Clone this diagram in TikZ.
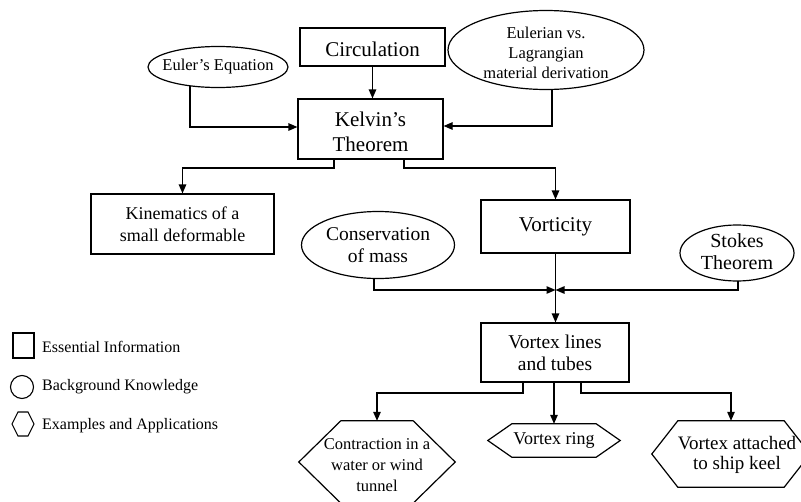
\documentclass[tikz,border=0pt]{standalone}
\usepackage{fontspec}
\setmainfont{Liberation Serif}
\usetikzlibrary{arrows.meta,shapes.geometric,calc,backgrounds}
\newcommand{\fsA}{\fontsize{21pt}{25pt}\selectfont}
\newcommand{\fsB}{\fontsize{18pt}{21.5pt}\selectfont}
\newcommand{\fsD}{\fontsize{19.5pt}{22pt}\selectfont}
\newcommand{\fsE}{\fontsize{16.5pt}{21pt}\selectfont}
\newcommand{\fsF}{\fontsize{19pt}{20pt}\selectfont}
\newcommand{\fsC}{\fontsize{16.5pt}{20pt}\selectfont}
\newcommand{\fsL}{\fontsize{16pt}{19pt}\selectfont}
\newcommand{\hexof}[2]{%
  \draw[hexline] (#1.west) -- ($(#1.north west)+(#2,0)$) -- ($(#1.north east)+(-#2,0)$)
    -- (#1.east) -- ($(#1.south east)+(-#2,0)$) -- ($(#1.south west)+(#2,0)$) -- cycle;}
\tikzset{
  box/.style={draw, line width=1.2pt, fill=white, inner sep=0pt, align=center},
  oval/.style={draw, ellipse, line width=1.2pt, fill=white, inner sep=0pt},
  hexspot/.style={draw=none, inner sep=0pt},
  hexline/.style={line width=1.2pt},
  txt/.style={inner sep=0pt, align=center},
  arr/.style={line width=1.2pt, -{Triangle[length=9pt,width=7.5pt]}},
}
\begin{document}
\begin{tikzpicture}[x=1pt,y=-1pt]
\useasboundingbox (0,0) rectangle (801,501);
\clip (0,0) rectangle (801,501);

% boxes
\node[box, minimum width=145pt, minimum height=38pt] (circ) at (372.5,47) {};
\node[txt, font=\fsA] (circt) at (372.5,49) {Circulation};
\node[box, minimum width=145pt, minimum height=60pt] (kelvin) at (370.5,129) {};
\node[txt, font=\fsA] (kelvint) at (370.5,132) {Kelvin’s\\Theorem};
\node[box, minimum width=183pt, minimum height=60pt, font=\fsB] (kin) at (182.5,224) {Kinematics of a\\small deformable};
\node[box, minimum width=149pt, minimum height=53pt, font=\fsA] (vort) at (555.5,226.5) {Vorticity};
\node[box, minimum width=148pt, minimum height=59pt, font=\fsD] (vlt) at (555,352.5) {Vortex lines\\and tubes};

% ellipses
\node[oval, minimum width=140pt, minimum height=41pt] (euler) at (218,67) {};
\node[txt, font=\fsC] (eulert) at (euler) {Euler’s Equation};
\node[oval, minimum width=196pt, minimum height=79pt] (eul) at (546,50) {};
\node[txt, font=\fsC] (eult) at (546,53) {Eulerian vs.\\Lagrangian\\material derivation};
\node[oval, minimum width=153pt, minimum height=67pt] (cons) at (378,245) {};
\node[txt, font=\fsD] (const) at (cons) {Conservation\\of mass};
\node[oval, minimum width=114pt, minimum height=56pt] (stokes) at (737,253) {};
\node[txt, font=\fontsize{20pt}{22pt}\selectfont] (stokest) at (737,252) {Stokes\\Theorem};

% hexagons
\node[hexspot, minimum width=156pt, minimum height=82pt] (hexA) at (377,462) {};
\hexof{hexA}{42}
\node[txt, font=\fsE] (hexAt) at (377,465) {Contraction in a\\water or wind\\tunnel};
\node[hexspot, minimum width=132pt, minimum height=33pt] (hexB) at (554,440.5) {};
\hexof{hexB}{24}
\node[txt, font=\fsB] (hexBt) at (hexB) {Vortex ring};
\node[hexspot, minimum width=158pt, minimum height=66pt] (hexC) at (731,454) {};
\hexof{hexC}{26}
\node[txt, font=\fsF] (hexCt) at (737,455) {Vortex attached\\to ship keel};

% junction
\coordinate (jn) at (vort.south |- 0,290);

% connectors from inside ellipses (hidden by fill)
\begin{scope}[on background layer]
\draw[arr] (euler.center -| 190,0) -- (190,127) -- (kelvin.west |- 0,127);
\draw[arr] (eul.center -| 552,0) -- (552,126) -- (kelvin.east |- 0,126);
\draw[arr] (cons.center -| 374,0) -- (374,290) -- (jn);
\draw[arr] (stokes.center -| 738,0) -- (738,290) -- (jn);
\end{scope}

\draw[arr] (circ.south) -- (circ.south |- kelvin.north);
\draw[arr] (kelvin.south -| 334,0) -- (334,168) -| (kin.north);
\draw[arr] (kelvin.south -| 404,0) -- (404,168) -| (vort.north);
\draw[arr] (vort.south) -- (vort.south |- vlt.north);
\draw[arr] (vlt.south -| 523,0) -- (523,393) -| (hexA.north);
\draw[arr] (vlt.south -| 554,0) -- (hexB.north);
\draw[arr] (vlt.south -| 581,0) -- (581,393) -| (hexC.north);

% legend
\draw[line width=1.1pt] (13,333) rectangle (34,358);
\node[txt, anchor=west, font=\fsL] (legA) at (42,347) {Essential Information};
\draw[line width=1.1pt] (22,387) circle (11.5);
\node[txt, anchor=west, font=\fsL] (legB) at (42,387) {Background Knowledge};
\draw[line width=1.1pt] (12,424) -- (18,412) -- (28,412) -- (34,424) -- (28,436) -- (18,436) -- cycle;
\node[txt, anchor=west, font=\fsL] (legC) at (42,426) {Examples and Applications};
\end{tikzpicture}
\end{document}
